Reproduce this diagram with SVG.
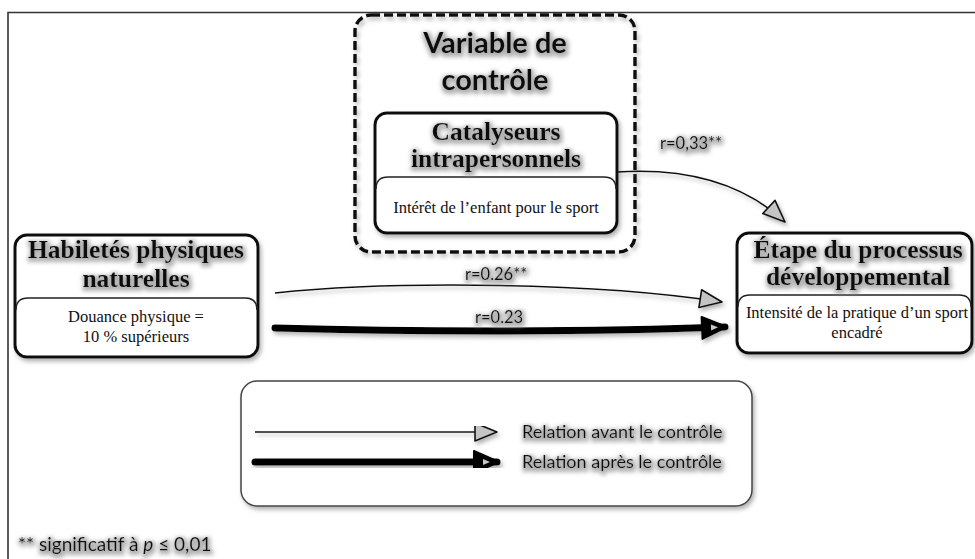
<svg xmlns="http://www.w3.org/2000/svg" width="975" height="559" viewBox="0 0 975 559">
  <style>
    .box { fill: #ffffff; stroke: #111111; stroke-width: 3; }
    .divider { fill: none; stroke: #222222; stroke-width: 1.4; }
    .title { font-family: "Liberation Serif", "Times New Roman", serif; font-weight: bold; font-size: 25.5px; fill: #111111; text-anchor: middle; }
    .body { font-family: "Liberation Serif", "Times New Roman", serif; font-size: 16.5px; fill: #111111; text-anchor: middle; }
    .sans { font-family: Lato, "Open Sans", "Liberation Sans", sans-serif; fill: #111111; }
    .big { font-size: 29px; font-weight: bold; text-anchor: middle; }
    .lbl { font-size: 16.5px; }
    .legend { font-size: 18px; }
    .thin { fill: none; stroke: #111111; stroke-width: 1.6; }
    .thick { fill: none; stroke: #000000; stroke-width: 7; stroke-linecap: round; }
  </style>
  <defs>
    <!-- soft grey halo used under boxes and lines -->
    <filter id="shadow" x="-10%" y="-20%" width="120%" height="140%">
      <feGaussianBlur in="SourceAlpha" stdDeviation="2.2" result="b"/>
      <feOffset in="b" dx="2" dy="3" result="o"/>
      <feFlood flood-color="#808080" flood-opacity="0.6"/>
      <feComposite in2="o" operator="in" result="s"/>
      <feMerge><feMergeNode in="s"/><feMergeNode in="SourceGraphic"/></feMerge>
    </filter>
    <!-- grey glow behind heading text -->
    <filter id="glow" x="-10%" y="-30%" width="120%" height="160%">
      <feMorphology in="SourceAlpha" operator="dilate" radius="1.8" result="d"/>
      <feGaussianBlur in="d" stdDeviation="2" result="b"/>
      <feOffset in="b" dx="1" dy="2" result="o"/>
      <feFlood flood-color="#888888" flood-opacity="0.65"/>
      <feComposite in2="o" operator="in" result="s"/>
      <feMerge><feMergeNode in="s"/><feMergeNode in="SourceGraphic"/></feMerge>
    </filter>
    <marker id="openHead" markerUnits="userSpaceOnUse" markerWidth="26" markerHeight="22" refX="22" refY="9" orient="auto" overflow="visible">
      <path d="M0,0 L22,9 L0,18 Z" fill="#c4c4c4" stroke="#111111" stroke-width="1.6" stroke-linejoin="round"/>
    </marker>
    <marker id="solidHead" markerUnits="userSpaceOnUse" markerWidth="28" markerHeight="24" refX="23" refY="11" orient="auto" overflow="visible">
      <path d="M0,0 L25,11 L0,22 Z" fill="#000000" stroke="#000000" stroke-width="2" stroke-linejoin="round"/>
      <path d="M9,8 L16,11 L9,14 Z" fill="#c8c8c8"/>
    </marker>
  </defs>

  <rect width="975" height="559" fill="#ffffff"/>

  <!-- page frame -->
  <path d="M8,559 L8,12.5 L975,12.5" fill="none" stroke="#333333" stroke-width="1.6"/>

  <!-- control variable frame -->
  <g id="control-variable">
    <rect x="355" y="15" width="280" height="237" rx="16" fill="none" stroke="#111111" stroke-width="3.5" stroke-dasharray="9 4" filter="url(#shadow)"/>
    <g filter="url(#glow)">
      <text class="sans big" x="495" y="53">Variable de</text>
      <text class="sans big" x="495" y="90">contrôle</text>
    </g>
  </g>

  <g id="catalyseurs">
    <rect class="box" x="375" y="113" width="242" height="120" rx="12" filter="url(#shadow)"/>
    <path class="divider" d="M376,189 Q376,177 388,177 L604,177 Q616,177 616,189"/>
    <g filter="url(#glow)">
      <text class="title" x="496" y="140" font-size="26.5">Catalyseurs</text>
      <text class="title" x="496" y="167" font-size="26">intrapersonnels</text>
    </g>
    <text class="body" x="496" y="213">Intérêt de l’enfant pour le sport</text>
  </g>

  <g id="habiletes">
    <rect class="box" x="15" y="235" width="243" height="122" rx="12" filter="url(#shadow)"/>
    <path class="divider" d="M16,310 Q16,298 28,298 L245,298 Q257,298 257,310"/>
    <g filter="url(#glow)">
      <text class="title" x="136" y="258">Habiletés physiques</text>
      <text class="title" x="136" y="287">naturelles</text>
    </g>
    <text class="body" x="136" y="322">Douance physique =</text>
    <text class="body" x="136" y="342">10 % supérieurs</text>
  </g>

  <g id="etape">
    <rect class="box" x="737" y="233" width="235" height="120" rx="12" filter="url(#shadow)"/>
    <path class="divider" d="M738,307 Q738,295 750,295 L959,295 Q971,295 971,307"/>
    <g filter="url(#glow)">
      <text class="title" x="858" y="258">Étape du processus</text>
      <text class="title" x="858" y="285">développemental</text>
    </g>
    <text class="body" x="857" y="318" font-size="16">Intensité de la pratique d’un sport</text>
    <text class="body" x="857" y="338" font-size="16">encadré</text>
  </g>

  <!-- relations -->
  <g id="connectors" filter="url(#shadow)">
    <path class="thin" d="M617,172 C680,168 740,180 785,222" marker-end="url(#openHead)"/>
    <path class="thin" d="M275,293 C400,280 600,283 722,302" marker-end="url(#openHead)"/>
    <path class="thick" d="M275,328 C420,332 600,332 725,327" marker-end="url(#solidHead)"/>
  </g>
  <g id="connector-labels" filter="url(#glow)">
    <text class="sans lbl" x="660" y="149">r=0,33**</text>
    <text class="sans lbl" x="465" y="280">r=0.26**</text>
    <text class="sans lbl" x="475" y="323">r=0.23</text>
  </g>

  <!-- legend -->
  <g id="legend">
    <rect x="241" y="381" width="511" height="125" rx="16" fill="#ffffff" stroke="#444444" stroke-width="1.5" filter="url(#shadow)"/>
    <g filter="url(#shadow)">
      <path class="thin" d="M255,432 L497,432" marker-end="url(#openHead)"/>
      <path class="thick" d="M255,462 L497,462" marker-end="url(#solidHead)"/>
    </g>
    <g filter="url(#glow)">
      <text class="sans legend" x="522" y="438">Relation avant le contrôle</text>
      <text class="sans legend" x="522" y="468">Relation après le contrôle</text>
    </g>
  </g>

  <!-- footnote -->
  <text class="sans" x="18" y="551" font-size="19" filter="url(#glow)">** significatif à <tspan font-style="italic">p</tspan> ≤ 0,01</text>
</svg>
